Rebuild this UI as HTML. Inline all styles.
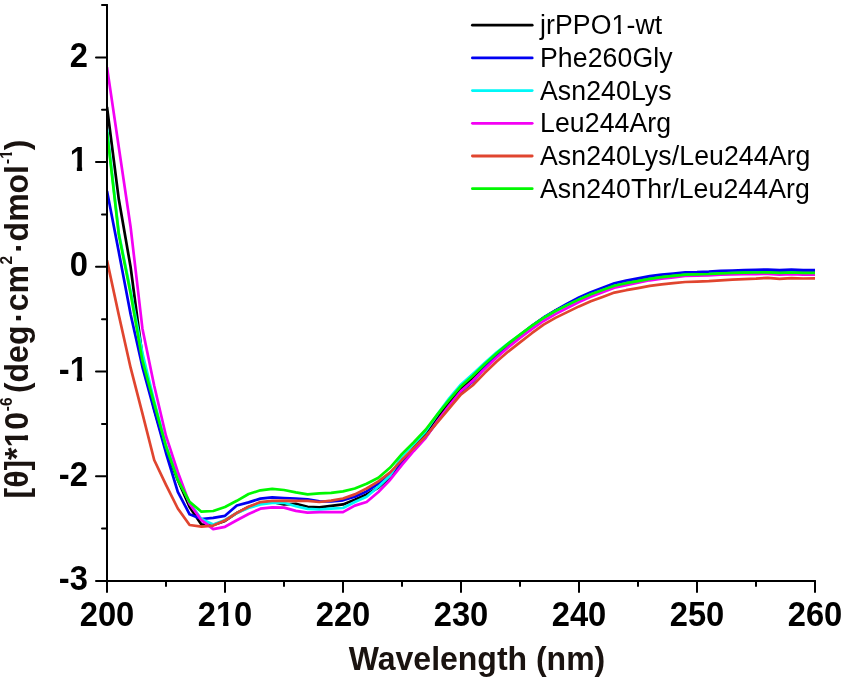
<!DOCTYPE html>
<html lang="en"><head><meta charset="utf-8"><title>CD spectra</title>
<style>
html,body{margin:0;padding:0;background:#fff;}
body{width:845px;height:678px;overflow:hidden;position:relative;}
svg{will-change:transform;position:absolute;left:0;top:0;display:block;}
text{font-family:"Liberation Sans",Arial,Helvetica,sans-serif;}
.tk{font-weight:bold;font-size:32.7px;fill:#000;}
.tt{font-weight:bold;font-size:32px;fill:#1a1310;}
.lg{font-size:26.65px;fill:#000;}
.ax{stroke:#000;stroke-width:2;fill:none;stroke-linecap:round;}
.cv{fill:none;stroke-width:2.7;stroke-linejoin:round;stroke-linecap:butt;}
</style></head><body>
<svg width="845" height="678" viewBox="0 0 845 678">
<rect x="0" y="0" width="845" height="678" fill="#ffffff"/>
<defs><clipPath id="k0"><path clip-rule="evenodd" d="M-400,-400H1200V400H-400ZM-17.62,-4.14H-10.95V1.50H-17.62ZM-5.66,-4.14H0.60V1.50H-5.66Z"/></clipPath><clipPath id="k1"><path clip-rule="evenodd" d="M-400,-400H1200V400H-400ZM-17.62,-4.14H-10.95V1.50H-17.62ZM-5.66,-4.14H0.60V1.50H-5.66Z"/></clipPath><clipPath id="k2"><path clip-rule="evenodd" d="M-400,-400H1200V400H-400ZM-8.53,-4.14H-1.86V1.50H-8.53ZM3.43,-4.14H9.69V1.50H3.43Z"/></clipPath><clipPath id="k3"><path clip-rule="evenodd" d="M-400,-400H1200V400H-400ZM51.58,-4.07H58.13V1.50H51.58ZM63.32,-4.07H69.47V1.50H63.32Z"/></clipPath><clipPath id="k4"><path clip-rule="evenodd" d="M-400,-400H1200V400H-400ZM4.64,-2.38H8.38V1.50H4.64ZM11.31,-2.38H14.85V1.50H11.31Z"/></clipPath><clipPath id="k5"><path clip-rule="evenodd" d="M-400,-400H1200V400H-400ZM72.08,-2.79H77.85V1.50H72.08ZM81.01,-2.79H86.57V1.50H81.01Z"/></clipPath></defs>

<clipPath id="pc"><rect x="107" y="0" width="720" height="600"/></clipPath><g clip-path="url(#pc)">
<polyline class="cv" stroke="#000000" points="107.0,107.0 118.8,199.3 130.6,267.0 142.4,356.5 154.2,409.0 166.0,450.0 177.8,480.0 189.6,507.0 201.4,524.4 213.2,525.0 225.0,520.9 236.8,513.0 248.6,507.0 260.4,503.0 272.2,502.0 284.0,504.4 295.8,503.8 307.6,506.8 319.4,507.3 331.2,505.9 343.0,504.4 354.8,499.7 366.6,494.5 378.4,487.5 390.2,477.2 402.0,463.5 413.8,447.5 425.6,433.8 437.4,417.8 449.2,402.8 461.0,388.8 472.8,378.3 484.6,366.7 496.4,355.8 508.2,345.4 520.0,335.8 531.8,326.2 543.6,317.8 555.4,310.7 567.2,304.8 579.0,299.1 590.8,293.9 602.6,289.7 614.4,285.4 626.2,282.9 638.0,280.8 649.8,278.5 661.6,276.9 673.4,275.6 685.2,274.4 697.0,274.1 708.8,273.7 720.6,273.0 732.4,272.7 744.2,272.4 756.0,272.2 767.8,272.0 779.6,272.7 791.4,272.2 803.2,272.7 815.0,272.7"/>
<polyline class="cv" stroke="#0000f2" points="107.0,191.0 118.8,252.0 130.6,314.3 142.4,366.8 154.2,410.3 166.0,453.0 177.8,491.8 189.6,514.3 201.4,519.0 213.2,517.9 225.0,515.8 236.8,505.5 248.6,502.4 260.4,498.6 272.2,497.4 284.0,498.0 295.8,498.5 307.6,499.4 319.4,501.4 331.2,501.5 343.0,500.3 354.8,496.7 366.6,491.4 378.4,483.7 390.2,474.2 402.0,462.0 413.8,449.5 425.6,437.2 437.4,421.5 449.2,406.0 461.0,391.8 472.8,381.5 484.6,368.0 496.4,355.5 508.2,344.6 520.0,335.0 531.8,325.9 543.6,317.5 555.4,310.3 567.2,303.6 579.0,297.5 590.8,292.2 602.6,287.8 614.4,283.3 626.2,280.6 638.0,278.3 649.8,276.1 661.6,274.7 673.4,273.5 685.2,272.4 697.0,272.2 708.8,271.7 720.6,270.9 732.4,270.5 744.2,270.1 756.0,269.8 767.8,269.6 779.6,270.2 791.4,269.7 803.2,270.1 815.0,270.1"/>
<polyline class="cv" stroke="#00f8f8" points="107.0,128.9 118.8,233.0 130.6,291.0 142.4,353.0 154.2,401.0 166.0,445.5 177.8,478.0 189.6,503.0 201.4,519.0 213.2,524.4 225.0,520.0 236.8,513.0 248.6,508.0 260.4,504.4 272.2,502.8 284.0,502.8 295.8,506.2 307.6,508.9 319.4,509.5 331.2,508.6 343.0,508.0 354.8,502.0 366.6,496.7 378.4,486.7 390.2,475.6 402.0,456.0 413.8,444.1 425.6,431.5 437.4,414.4 449.2,398.3 461.0,384.5 472.8,373.9 484.6,362.9 496.4,352.5 508.2,343.3 520.0,334.8 531.8,326.1 543.6,318.0 555.4,311.2 567.2,305.3 579.0,299.6 590.8,294.4 602.6,290.2 614.4,285.9 626.2,283.4 638.0,281.3 649.8,279.0 661.6,277.4 673.4,276.1 685.2,274.9 697.0,274.6 708.8,274.2 720.6,273.5 732.4,273.2 744.2,272.9 756.0,272.7 767.8,272.5 779.6,273.2 791.4,272.7 803.2,273.2 815.0,273.2"/>
<polyline class="cv" stroke="#f400f4" points="107.0,67.1 118.8,147.3 130.6,227.0 142.4,328.4 154.2,385.8 166.0,436.0 177.8,472.0 189.6,503.7 201.4,520.2 213.2,529.1 225.0,526.8 236.8,520.3 248.6,514.0 260.4,508.7 272.2,507.3 284.0,507.6 295.8,510.9 307.6,512.6 319.4,512.1 331.2,512.1 343.0,512.1 354.8,505.6 366.6,502.0 378.4,492.0 390.2,479.7 402.0,464.9 413.8,451.0 425.6,438.0 437.4,421.0 449.2,405.5 461.0,391.0 472.8,380.8 484.6,368.9 496.4,357.7 508.2,347.4 520.0,337.9 531.8,329.1 543.6,321.0 555.4,314.1 567.2,308.0 579.0,302.1 590.8,296.8 602.6,292.3 614.4,287.8 626.2,285.1 638.0,282.7 649.8,280.3 661.6,278.7 673.4,277.3 685.2,276.0 697.0,275.6 708.8,275.3 720.6,274.7 732.4,274.5 744.2,274.2 756.0,274.1 767.8,273.9 779.6,274.6 791.4,274.2 803.2,274.7 815.0,274.7"/>
<polyline class="cv" stroke="#e0452f" points="107.0,260.4 118.8,315.0 130.6,367.7 142.4,413.3 154.2,460.0 166.0,484.9 177.8,508.5 189.6,525.0 201.4,526.7 213.2,525.6 225.0,520.5 236.8,512.9 248.6,506.8 260.4,502.1 272.2,500.9 284.0,500.6 295.8,500.8 307.6,500.8 319.4,502.0 331.2,500.7 343.0,498.5 354.8,494.4 366.6,488.5 378.4,481.4 390.2,472.4 402.0,459.8 413.8,448.0 425.6,436.3 437.4,422.3 449.2,408.3 461.0,394.4 472.8,385.2 484.6,373.1 496.4,361.8 508.2,351.6 520.0,342.4 531.8,333.2 543.6,324.6 555.4,317.9 567.2,312.1 579.0,306.4 590.8,301.2 602.6,296.9 614.4,292.6 626.2,290.2 638.0,288.1 649.8,285.8 661.6,284.3 673.4,283.1 685.2,282.0 697.0,281.7 708.8,281.2 720.6,280.3 732.4,279.7 744.2,279.1 756.0,278.6 767.8,277.8 779.6,278.8 791.4,278.1 803.2,278.5 815.0,278.3"/>
<polyline class="cv" stroke="#00f800" points="107.0,131.8 118.8,234.6 130.6,293.5 142.4,360.4 154.2,403.7 166.0,446.5 177.8,480.0 189.6,501.9 201.4,511.7 213.2,511.0 225.0,507.0 236.8,500.8 248.6,494.0 260.4,490.3 272.2,488.8 284.0,490.0 295.8,492.4 307.6,494.3 319.4,493.4 331.2,492.8 343.0,491.4 354.8,488.5 366.6,483.7 378.4,477.8 390.2,467.6 402.0,453.9 413.8,442.2 425.6,429.7 437.4,414.3 449.2,399.8 461.0,386.2 472.8,375.8 484.6,364.3 496.4,353.5 508.2,343.6 520.0,334.6 531.8,325.9 543.6,317.8 555.4,311.0 567.2,305.1 579.0,299.4 590.8,294.2 602.6,290.0 614.4,285.7 626.2,283.2 638.0,281.1 649.8,278.8 661.6,277.2 673.4,275.9 685.2,274.7 697.0,274.4 708.8,274.0 720.6,273.3 732.4,273.0 744.2,272.7 756.0,272.5 767.8,272.3 779.6,273.0 791.4,272.5 803.2,273.0 815.0,273.0"/>
</g>
<path class="ax" d="M107,5 L107,581 L815,581"/>
<path class="ax" d="M102.0,5.0 L107,5.0 M96.0,57.4 L107,57.4 M102.0,109.7 L107,109.7 M96.0,162.1 L107,162.1 M102.0,214.5 L107,214.5 M96.0,266.8 L107,266.8 M102.0,319.2 L107,319.2 M96.0,371.5 L107,371.5 M102.0,423.9 L107,423.9 M96.0,476.3 L107,476.3 M102.0,528.6 L107,528.6 M96.0,581.0 L107,581.0 M107.0,581 L107.0,592.0 M166.0,581 L166.0,586.0 M225.0,581 L225.0,592.0 M284.0,581 L284.0,586.0 M343.0,581 L343.0,592.0 M402.0,581 L402.0,586.0 M461.0,581 L461.0,592.0 M520.0,581 L520.0,586.0 M579.0,581 L579.0,592.0 M638.0,581 L638.0,586.0 M697.0,581 L697.0,592.0 M756.0,581 L756.0,586.0 M815.0,581 L815.0,592.0"/>
<text class="tk" transform="translate(87.8,66.66) scale(1,1.05)" x="-18.18">2</text>
<text class="tk" clip-path="url(#k0)" transform="translate(87.8,171.39) scale(1,1.05)" x="-18.18">1</text>
<text class="tk" transform="translate(87.8,276.12) scale(1,1.05)" x="-18.18">0</text>
<text class="tk" clip-path="url(#k1)" transform="translate(87.8,380.85) scale(1,1.05)" x="-29.06">-1</text>
<text class="tk" transform="translate(87.8,485.57) scale(1,1.05)" x="-29.06">-2</text>
<text class="tk" transform="translate(87.8,590.30) scale(1,1.05)" x="-29.06">-3</text>
<text class="tk" transform="translate(107.0,625.50) scale(1,1.05)" x="-27.27">200</text>
<text class="tk" clip-path="url(#k2)" transform="translate(225.0,625.50) scale(1,1.05)" x="-27.27">210</text>
<text class="tk" transform="translate(343.0,625.50) scale(1,1.05)" x="-27.27">220</text>
<text class="tk" transform="translate(461.0,625.50) scale(1,1.05)" x="-27.27">230</text>
<text class="tk" transform="translate(579.0,625.50) scale(1,1.05)" x="-27.27">240</text>
<text class="tk" transform="translate(697.0,625.50) scale(1,1.05)" x="-27.27">250</text>
<text class="tk" transform="translate(815.0,625.50) scale(1,1.05)" x="-27.27">260</text>
<text class="tt" transform="translate(477,670.2) scale(1,1.03)" text-anchor="middle">Wavelength (nm)</text>
<text class="tt" clip-path="url(#k3)" transform="translate(27.70,498.50) rotate(-90) scale(1,1.03)" x="0.00">[θ]*10</text>
<text class="tt" style="font-size:15.5px;" transform="translate(12.40,411.20) rotate(-90) scale(1,1.03)" x="0.00">-6</text>
<text class="tt" transform="translate(27.70,393.10) rotate(-90) scale(1,1.03)" x="0.00">(deg</text>
<text class="tt" transform="translate(29.70,322.50) rotate(-90) scale(1,1.03)" x="0.00">·</text>
<text class="tt" transform="translate(27.70,311.30) rotate(-90) scale(1,1.03)" x="0.00">cm</text>
<text class="tt" style="font-size:15.5px;" transform="translate(12.40,264.60) rotate(-90) scale(1,1.03)" x="0.00">2</text>
<text class="tt" transform="translate(29.70,252.70) rotate(-90) scale(1,1.03)" x="0.00">·</text>
<text class="tt" transform="translate(27.70,241.40) rotate(-90) scale(1,1.03)" x="0.00">dmol</text>
<text class="tt" style="font-size:15.5px;" clip-path="url(#k4)" transform="translate(12.40,163.90) rotate(-90) scale(1,1.03)" x="0.00">-1</text>
<text class="tt" transform="translate(27.70,150.20) rotate(-90) scale(1,1.03)" x="0.00">)</text>
<line x1="472.4" y1="25.20" x2="532.2" y2="25.20" stroke="#000000" stroke-width="2.8" stroke-linecap="round"/>
<text class="lg" style="letter-spacing:0.1px" clip-path="url(#k5)" transform="translate(540.0,34.30) scale(1,1.02)" x="0.00">jrPPO1-wt</text>
<line x1="472.4" y1="57.90" x2="532.2" y2="57.90" stroke="#0000f2" stroke-width="2.8" stroke-linecap="round"/>
<text class="lg" style="letter-spacing:0.1px" transform="translate(540.0,67.00) scale(1,1.02)" x="0.00">Phe260Gly</text>
<line x1="472.4" y1="90.60" x2="532.2" y2="90.60" stroke="#00f8f8" stroke-width="2.8" stroke-linecap="round"/>
<text class="lg" style="letter-spacing:0.1px" transform="translate(540.0,99.70) scale(1,1.02)" x="0.00">Asn240Lys</text>
<line x1="472.4" y1="123.30" x2="532.2" y2="123.30" stroke="#f400f4" stroke-width="2.8" stroke-linecap="round"/>
<text class="lg" style="letter-spacing:0.1px" transform="translate(540.0,132.40) scale(1,1.02)" x="0.00">Leu244Arg</text>
<line x1="472.4" y1="156.00" x2="532.2" y2="156.00" stroke="#e0452f" stroke-width="2.8" stroke-linecap="round"/>
<text class="lg" style="letter-spacing:0.1px" transform="translate(540.0,165.10) scale(1,1.02)" x="0.00">Asn240Lys/Leu244Arg</text>
<line x1="472.4" y1="188.70" x2="532.2" y2="188.70" stroke="#00f800" stroke-width="2.8" stroke-linecap="round"/>
<text class="lg" style="letter-spacing:0.1px" transform="translate(540.0,197.80) scale(1,1.02)" x="0.00">Asn240Thr/Leu244Arg</text>
</svg></body></html>
